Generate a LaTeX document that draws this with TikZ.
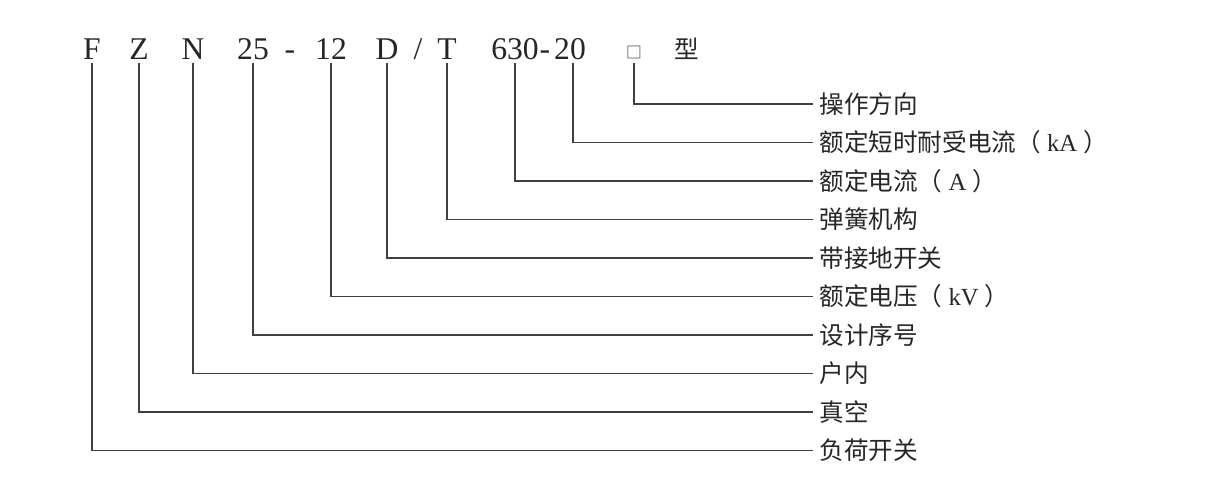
\documentclass[tikz,border=0pt]{standalone}
\usepackage{fontspec}
\setmainfont{Liberation Serif}
\newfontfamily\cjk{Noto Sans CJK SC}
\usetikzlibrary{positioning}

\tikzset{
  code/.style={anchor=base, inner sep=0pt, font=\fontsize{18pt}{18pt}\selectfont, text=black!85},
  desc/.style={anchor=west, inner sep=3.5pt, font=\fontsize{14pt}{14pt}\selectfont, text=black!85},
  lead/.style={line width=0.6pt, draw=black!75}
}

\begin{document}
\begin{tikzpicture}[x=0.02cm, y=-0.02cm]

        \useasboundingbox (0,0) rectangle (1228,498);

        % Model code
        \node[code] (F) at (92, 59) {F};
        \node[code] (Z) at (139, 59) {Z};
        \node[code] (N) at (193, 59) {N};
        \node[code] (n25) at (253, 59) {25};
        \node[code] (dash1) at (290, 59) {-};
        \node[code] (n12) at (331, 59) {12};
        \node[code] (D) at (387, 59) {D};
        \node[code] (slash) at (418, 59) {/};
        \node[code] (T) at (447, 59) {T};
        \node[code] (n630) at (515, 59) {630};
        \node[code] (dash2) at (545, 59) {-};
        \node[code] (n20) at (570, 59) {20};
        \node[anchor=base, inner sep=0pt, font=\cjk\fontsize{9pt}{9pt}\selectfont, text=black!85] (box) at (634, 58) {□};
        \node[code, font=\cjk\fontsize{14pt}{14pt}\selectfont] (xing) at (687, 58) {型};

        \coordinate (top) at (0, 63);

        % Descriptions
        \node[desc] (caozuo) at (813, 104) {\cjk 操作方向};
        \node[desc] (duanshi) at (813, 142.5) {{\cjk 额定短时耐受电流（}\ kA\ {\cjk ）}};
        \node[desc] (dianliu) at (813, 181) {{\cjk 额定电流（}\ A\ {\cjk ）}};
        \node[desc] (tanhuang) at (813, 219.5) {\cjk 弹簧机构};
        \node[desc] (jiedi) at (813, 258) {\cjk 带接地开关};
        \node[desc] (dianya) at (813, 296.5) {{\cjk 额定电压（}\ kV\ {\cjk ）}};
        \node[desc] (xuhao) at (813, 335) {\cjk 设计序号};
        \node[desc] (hunei) at (813, 373.5) {\cjk 户内};
        \node[desc] (zhenkong) at (813, 412) {\cjk 真空};
        \node[desc] (fuhe) at (813, 450.5) {\cjk 负荷开关};

        % Leaders
        \draw[lead] (box |- top) |- (caozuo.west);
        \draw[lead] ([xshift=0.06cm]n20.south |- top) |- (duanshi.west);
        \draw[lead] (n630 |- top) |- (dianliu.west);
        \draw[lead] (T |- top) |- (tanhuang.west);
        \draw[lead] (D |- top) |- (jiedi.west);
        \draw[lead] (n12 |- top) |- (dianya.west);
        \draw[lead] (n25 |- top) |- (xuhao.west);
        \draw[lead] (N |- top) |- (hunei.west);
        \draw[lead] (Z |- top) |- (zhenkong.west);
        \draw[lead] (F |- top) |- (fuhe.west);

    \end{tikzpicture}
\end{document}
